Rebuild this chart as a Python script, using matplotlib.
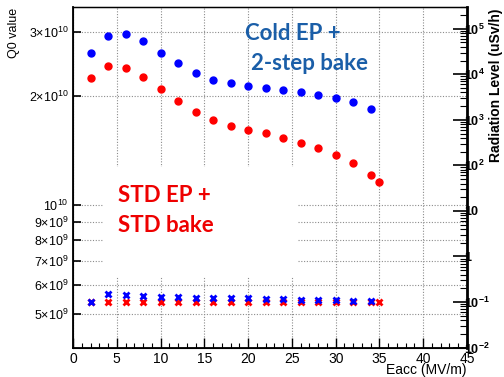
import matplotlib
matplotlib.use('Agg')
import matplotlib.pyplot as plt
import matplotlib.patches as patches
from matplotlib.ticker import FixedLocator, FixedFormatter, LogLocator, NullFormatter, NullLocator, MultipleLocator

plt.rcParams['font.family'] = ['Liberation Sans', 'DejaVu Sans']
plt.rcParams['mathtext.fontset'] = 'custom'
plt.rcParams['mathtext.rm'] = 'Liberation Sans'
plt.rcParams['mathtext.it'] = 'Liberation Sans:italic'
plt.rcParams['mathtext.bf'] = 'Liberation Sans:bold'

# Eacc points (MV/m)
eacc_cold = [2, 4, 6, 8, 10, 12, 14, 16, 18, 20, 22, 24, 26, 28, 30, 32, 34]
eacc_std = [2, 4, 6, 8, 10, 12, 14, 16, 18, 20, 22, 24, 26, 28, 30, 32, 34, 35]

# Q0 values
q0_cold = [2.62e10, 2.93e10, 2.96e10, 2.83e10, 2.62e10, 2.47e10, 2.31e10, 2.21e10, 2.17e10,
           2.13e10, 2.10e10, 2.08e10, 2.05e10, 2.01e10, 1.97e10, 1.92e10, 1.84e10]
q0_std = [2.24e10, 2.42e10, 2.39e10, 2.25e10, 2.09e10, 1.94e10, 1.81e10, 1.72e10, 1.65e10,
          1.61e10, 1.58e10, 1.53e10, 1.48e10, 1.44e10, 1.37e10, 1.31e10, 1.21e10, 1.16e10]

# radiation (uSv/h)
rad_cold = [0.100, 0.150, 0.142, 0.136, 0.131, 0.128, 0.124, 0.122, 0.122,
            0.121, 0.116, 0.116, 0.112, 0.111, 0.109, 0.107, 0.105]
rad_std = [0.100] * 18

q0_ticks = [5e9, 6e9, 7e9, 8e9, 9e9, 1e10, 2e10, 3e10]
q0_labels = [r'$\mathregular{5{\times}10^{9}}$', r'$\mathregular{6{\times}10^{9}}$',
             r'$\mathregular{7{\times}10^{9}}$', r'$\mathregular{8{\times}10^{9}}$',
             r'$\mathregular{9{\times}10^{9}}$', r'$\mathregular{10^{10}}$',
             r'$\mathregular{2{\times}10^{10}}$', r'$\mathregular{3{\times}10^{10}}$']
rad_ticks = [1e-2, 1e-1, 1, 10, 1e2, 1e3, 1e4, 1e5]
rad_labels = [r'$\mathregular{10^{-2}}$', r'$\mathregular{10^{-1}}$', '1', '10',
              r'$\mathregular{10^{2}}$', r'$\mathregular{10^{3}}$',
              r'$\mathregular{10^{4}}$', r'$\mathregular{10^{5}}$']

BLUE = '#0000ff'
RED = '#ff0000'

fig = plt.figure(figsize=(5.04, 3.77), dpi=100)
ax = fig.add_axes([73/504, 1-348/377, 394/504, 341/377])
ax.set_yscale('log')
ax.set_xlim(0, 45)
ax.set_ylim(4.03e9, 3.52e10)
ax.set_axisbelow(True)

ax.yaxis.set_major_locator(FixedLocator(q0_ticks))
ax.yaxis.set_major_formatter(FixedFormatter(q0_labels))
ax.yaxis.set_minor_locator(NullLocator())
ax.yaxis.set_minor_formatter(NullFormatter())
ax.xaxis.set_major_locator(MultipleLocator(5))
ax.xaxis.set_minor_locator(MultipleLocator(1))
ax.tick_params(axis='y', which='major', direction='in', length=6, width=1.2, labelsize=9, pad=3, right=False)
ax.tick_params(axis='x', which='major', direction='in', length=7, width=1.0, labelsize=10, pad=3, top=False)
ax.tick_params(axis='x', which='minor', direction='in', length=3.5, width=0.8, top=False)
ax.grid(True, which='major', linestyle=(0, (1, 1.5)), color='#8c8c8c', linewidth=0.8)
for s in ['left', 'bottom']:
    ax.spines[s].set_linewidth(1.3)
ax.spines['top'].set_linewidth(1.0)

# white box behind the STD label hides the grid
ax.add_patch(patches.Rectangle((0.076, 0.208), 0.493, 0.323, transform=ax.transAxes,
                               facecolor='white', edgecolor='none', zorder=1))

ax.plot(eacc_std, q0_std, 'o', color=RED, ms=5, mec=RED, zorder=3)
ax.plot(eacc_cold, q0_cold, 'o', color=BLUE, ms=5, mec=BLUE, zorder=3)

ax2 = ax.twinx()
ax2.set_yscale('log')
ax2.set_ylim(9.8e-3, 3.0e5)
ax2.yaxis.set_major_locator(FixedLocator(rad_ticks))
ax2.yaxis.set_major_formatter(FixedFormatter(rad_labels))
ax2.yaxis.set_minor_locator(LogLocator(base=10, subs=range(2, 10), numticks=20))
ax2.yaxis.set_minor_formatter(NullFormatter())
ax2.tick_params(axis='y', which='major', direction='in', length=10, width=1.2, labelsize=9, pad=-2)
ax2.tick_params(axis='y', which='minor', direction='in', length=5, width=0.8)
ax2.spines['right'].set_linewidth(2.0)
for lab in ax2.get_yticklabels():
    lab.set_fontweight('bold')

ax2.plot(eacc_std, rad_std, 'x', color=RED, ms=5, mew=2.0)
ax2.plot(eacc_cold, rad_cold, 'x', color=BLUE, ms=5, mew=2.0)

tfont = ['Lato', 'DejaVu Sans']
ax2.text(0.437, 0.903, 'Cold EP +', transform=ax.transAxes, color='#1a5ea8', fontsize=16,
         fontweight='bold', family=tfont, va='baseline', ha='left')
ax2.text(0.452, 0.815, '2-step bake', transform=ax.transAxes, color='#1a5ea8', fontsize=16,
         fontweight='bold', family=tfont, va='baseline', ha='left')
ax2.text(0.114, 0.428, 'STD EP +', transform=ax.transAxes, color='#ee0000', fontsize=16,
         fontweight='bold', family=tfont, va='baseline', ha='left')
ax2.text(0.114, 0.340, 'STD bake', transform=ax.transAxes, color='#ee0000', fontsize=16,
         fontweight='bold', family=tfont, va='baseline', ha='left')

fig.text(14/504, 1-8/377, 'Q0 value', rotation=90, ha='center', va='top', fontsize=9)
fig.text(496/504, 1-8/377, 'Radiation Level (uSv/h)', rotation=90, ha='center', va='top',
         fontsize=10, fontweight='bold')
fig.text(467/504, 1-370/377, 'Eacc (MV/m)', ha='right', va='center', fontsize=10)

fig.savefig('out.png', dpi=100)
